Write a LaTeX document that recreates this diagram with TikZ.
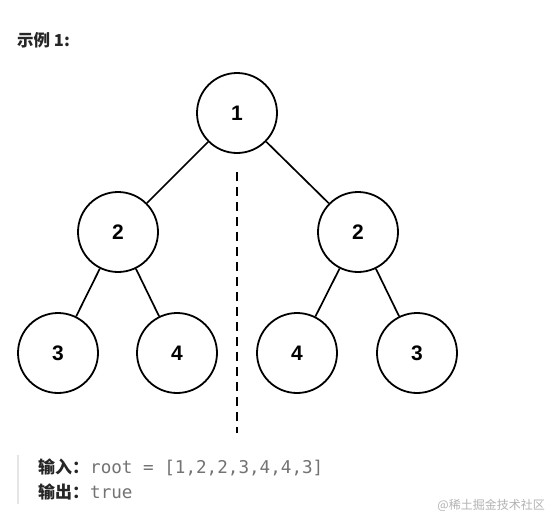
\documentclass[tikz,border=0pt]{standalone}
\usepackage{fontspec}
\setmainfont{Liberation Sans}
\newfontfamily\cjk{Noto Sans CJK SC}
\newfontfamily\monof{DejaVu Sans Mono}
\begin{document}
\begin{tikzpicture}[x=1pt,y=-1pt,
  tnode/.style={circle,draw=black,line width=1.8pt,minimum size=80pt,inner sep=0pt,font=\fontsize{21}{21}\selectfont\bfseries},
  edge/.style={draw=black,line width=1.7pt}]
\useasboundingbox[fill=white] (0,0) rectangle (548,517);
\node[anchor=west,inner sep=0pt,font=\fontsize{16.5}{16.5}\selectfont\cjk\bfseries,text=black!85] (title) at (17,40) {示例 1:};
\node[tnode] (r) at (237,113) {1};
\node[tnode] (l) at (118,232) {2};
\node[tnode] (rr) at (358,232) {2};
\node[tnode] (a) at (58,353) {3};
\node[tnode] (b) at (177,353) {4};
\node[tnode] (c) at (297,353) {4};
\node[tnode] (d) at (417,353) {3};
\draw[edge] (r) -- (l);
\draw[edge] (r) -- (rr);
\draw[edge] (l) -- (a);
\draw[edge] (l) -- (b);
\draw[edge] (rr) -- (c);
\draw[edge] (rr) -- (d);
\coordinate (dtop) at (237,172);
\coordinate (dbot) at (237,433);
\draw[line width=2.4pt,dash pattern=on 9pt off 6pt] (dtop) -- (dbot);
\coordinate (bt) at (18,455);
\coordinate (bb) at (18,504);
\draw[line width=2.5pt,draw=black!10] (bt) -- (bb);
\node[anchor=west,inner sep=0pt,font=\fontsize{17}{17}\selectfont] (in) at (38,467) {{\cjk\bfseries\color{black!85}输入：}\hspace{1pt}{\monof\fontsize{17.6}{17.6}\selectfont\color{black!55}root = [1,2,2,3,4,4,3]}};
\node[anchor=west,inner sep=0pt,font=\fontsize{17}{17}\selectfont] (out) at (38,492) {{\cjk\bfseries\color{black!85}输出：}\hspace{1pt}{\monof\fontsize{17.6}{17.6}\selectfont\color{black!55}true}};
\node[anchor=east,inner sep=0pt,font=\fontsize{12}{12}\selectfont\cjk,text=black!30] (wm) at (545,505) {@稀土掘金技术社区};
\end{tikzpicture}
\end{document}
